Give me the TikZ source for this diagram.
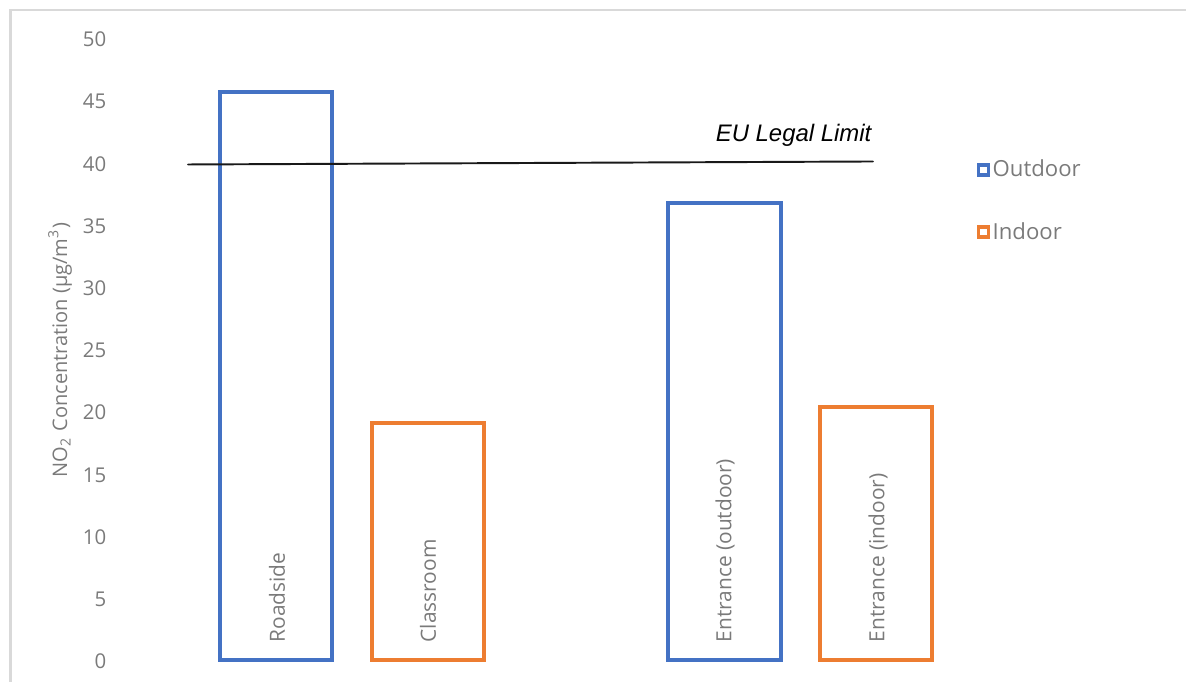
\documentclass[tikz,border=0pt]{standalone}
\RequirePackage{fontspec}
\setmainfont{Open Sans}
\newfontfamily\limitfont{Liberation Sans}
\RequirePackage{tikz}
\RequirePackage{tkz-euclide}
\definecolor{barblue}{HTML}{4472C4}
\definecolor{barorange}{HTML}{ED7D31}
\definecolor{axisgray}{HTML}{7A7A7A}
\definecolor{framegray}{HTML}{D9D9D9}
\tikzset{
    outbar/.style={draw=barblue,line width=1.14pt},
    inbar/.style={draw=barorange,line width=1.14pt},
    ticklabel/.style={text=axisgray,inner sep=0pt,anchor=east,font=\fontsize{5.8}{6}\selectfont},
    barlabel/.style={text=axisgray,inner sep=0pt,anchor=west,rotate=90,font=\fontsize{5.95}{6}\selectfont},
    keybox/.style={line width=1.05pt,fill=white},
    keylabel/.style={text=axisgray,inner sep=0pt,anchor=west,font=\fontsize{6.3}{7}\selectfont}
}

\begin{document}
\begin{tikzpicture}
                    \useasboundingbox (0,0) rectangle (11.86,6.82);
                    % frame
                    \draw[framegray,line width=0.57pt] (0.105,0) -- (0.105,6.715) -- (11.86,6.715);

                    % axis
                    \foreach \v in {0,5,...,50}
                        \node[ticklabel] (t\v) at (1.07,0.205+0.1244*\v) {\v};
                    \node[text=axisgray,rotate=90,inner sep=0pt,font=\fontsize{5.7}{6}\selectfont] (ytitle) at (0.60,3.32)
                        {NO\textsubscript{2} Concentration (μg/m\textsuperscript{3})};

                    % bars
                    \tkzDefPoint(2.20,0.22){R1}
                    \tkzDefPoint(3.32,5.895){R2}
                    \tkzDefPoint(3.72,0.22){C1}
                    \tkzDefPoint(4.84,2.59){C2}
                    \tkzDefPoint(6.68,0.22){EO1}
                    \tkzDefPoint(7.81,4.79){EO2}
                    \tkzDefPoint(8.20,0.22){EI1}
                    \tkzDefPoint(9.32,2.75){EI2}
                    \draw[outbar] (R1) rectangle (R2);
                    \draw[inbar] (C1) rectangle (C2);
                    \draw[outbar] (EO1) rectangle (EO2);
                    \draw[inbar] (EI1) rectangle (EI2);

                    \node[barlabel] (roadside) at (2.77,0.39) {Roadside};
                    \node[barlabel] (classroom) at (4.28,0.39) {Classroom};
                    \node[barlabel] (entrout) at (7.25,0.39) {Entrance (outdoor)};
                    \node[barlabel] (entrin) at (8.78,0.39) {Entrance (indoor)};

                    % limit
                    \tkzDefPoint(1.88,5.175){L1}
                    \tkzDefPoint(8.73,5.205){L2}
                    \tkzDrawSegment[color=black!90,line width=0.55pt](L1,L2)
                    \node[anchor=base east,inner sep=0pt,font=\limitfont\itshape\fontsize{6.8}{8}\selectfont] (eulimit) at (8.72,5.40) {EU Legal Limit};

                    % legend
                    \draw[keybox,draw=barblue] (9.785,5.07) rectangle (9.885,5.17);
                    \node[keylabel] (keyout) at (9.92,5.14) {Outdoor};
                    \draw[keybox,draw=barorange] (9.785,4.45) rectangle (9.885,4.55);
                    \node[keylabel] (keyin) at (9.92,4.51) {Indoor};
                \end{tikzpicture}
\end{document}
